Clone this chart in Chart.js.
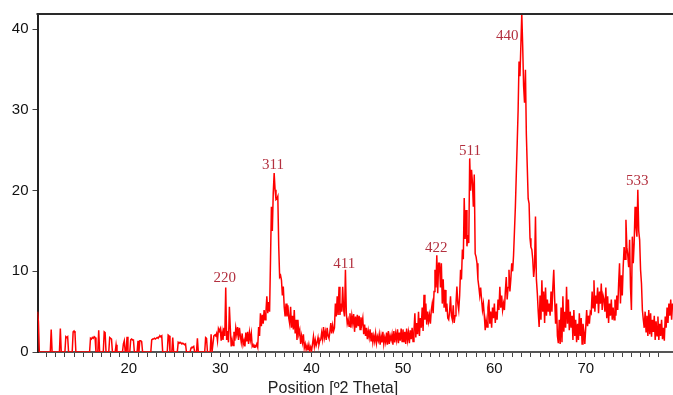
<!DOCTYPE html>
<html><head><meta charset="utf-8">
<script src="https://cdn.jsdelivr.net/npm/chart.js@4/dist/chart.umd.min.js"></script>
<style>html,body{margin:0;padding:0;background:#fff;overflow:hidden}canvas{display:block}</style>
</head><body>
<canvas id="c" width="673" height="395"></canvas>
<script>
// Sampling grid of the diffractogram (degrees 2-theta)
const thetaStart = 10.0;
const thetaStep = 0.1;
// Intensity, one row per degree (10.0 ... 79.5)
const intensity = [
  5.0, 3.8, 0, 0, 0, 0, 0, 0, 0, 0,
  0, 0, 0, 0, 0, 2.8, 0, 0, 0, 0,
  0, 0, 0, 0, 0, 2.9, 0, 0, 0, 0,
  0, 1.9, 1.8, 1.9, 0, 0, 0, 0, 0, 2.5,
  2.6, 2.4, 0, 0, 0, 0, 0, 0, 0, 0,
  0, 0, 0, 0, 0, 0, 0, 0, 1.7, 1.6,
  1.8, 1.7, 1.9, 1.8, 0, 0, 0, 2.7, 0, 0,
  0, 0, 0, 2.5, 2.4, 0, 0, 0, 0, 1.8,
  1.7, 1.6, 0, 0, 0, 0, 0.9, 0, 0, 0,
  0, 0, 0, 0, 1.0, 1.4, 0, 0, 1.9, 0,
  0, 0, 1.5, 1.6, 1.5, 1.5, 0, 0, 0, 0,
  1.4, 0, 1.4, 1.4, 1.3, 0, 0, 0, 0, 0,
  0, 0, 0, 0, 0, 1.5, 1.6, 1.6, 1.7, 1.6,
  1.7, 1.8, 1.7, 1.9, 2.0, 1.9, 2.0, 0, 0, 0,
  0, 0, 0, 2.1, 2.0, 0, 0, 0, 1.8, 0,
  0, 0, 0, 0, 1.2, 1.1, 1.2, 1.1, 1.0, 1.1,
  1.0, 0.9, 1.0, 0, 0, 0, 0, 0, 0.5, 0.6,
  0.6, 0.7, 0, 0, 0, 1.7, 0, 0, 0, 0,
  0, 0, 0, 0, 1.8, 1.7, 0, 0, 0, 0,
  2.2, 0, 0, 2.0, 2.1, 2.0, 2.3, 1.4, 2.9, 2.6,
  2.9, 1.4, 2.5, 1.5, 3.0, 2.0, 8.0, 1.5, 2.6, 1.2,
  5.6, 3.0, 0.7, 1.5, 0.8, 2.5, 1.4, 3.0, 2.2, 3.1,
  1.5, 3.0, 2.0, 1.2, 2.3, 0.9, 1.4, 0.7, 2.4, 1.3,
  2.5, 1.0, 2.4, 1.5, 2.3, 0.7, 0.9, 0.6, 0.8, 0.7,
  1.0, 0.6, 3.1, 2.0, 4.8, 3.2, 4.6, 3.5, 5.2, 4.0,
  5.0, 6.9, 4.8, 6.2, 5.0, 11.4, 18.0, 15.0, 19.7, 22.2,
  20.1, 18.9, 19.0, 19.3, 13.1, 9.3, 9.5, 8.9, 7.0, 8.1,
  5.6, 4.4, 6.0, 4.4, 5.8, 4.2, 3.5, 5.6, 3.0, 4.5,
  2.8, 5.2, 2.3, 4.0, 1.5, 4.0, 2.2, 2.7, 1.0, 2.0,
  1.2, 2.2, 0.5, 1.0, 0.3, 0.8, 0.2, 0.9, 0.1, 0.6,
  0.2, 1.0, 1.9, 0.7, 1.5, 0.8, 1.2, 1.8, 0.9, 1.4,
  1.5, 2.4, 1.6, 3.1, 1.8, 2.5, 1.5, 3.0, 2.0, 1.7,
  2.5, 3.6, 2.3, 3.3, 2.6, 3.0, 6.0, 4.4, 6.9, 4.6,
  8.1, 4.6, 6.0, 5.0, 8.1, 5.2, 4.4, 10.2, 4.8, 3.5,
  4.0, 3.2, 4.8, 3.0, 4.5, 3.6, 4.7, 2.5, 4.4, 3.0,
  4.6, 3.2, 4.5, 2.8, 4.3, 3.5, 4.2, 2.2, 3.4, 2.0,
  3.0, 1.6, 2.6, 1.8, 2.8, 1.4, 2.4, 1.2, 2.0, 1.3,
  2.3, 1.1, 1.9, 1.4, 2.2, 0.9, 2.0, 1.2, 2.5, 1.0,
  1.8, 1.2, 2.4, 0.9, 2.6, 1.0, 2.0, 1.5, 2.2, 0.9,
  2.6, 1.2, 2.3, 1.5, 2.8, 1.1, 2.4, 1.4, 2.9, 1.3,
  2.8, 1.2, 2.5, 1.0, 2.9, 1.5, 2.4, 1.1, 2.7, 1.6,
  3.0, 1.3, 2.6, 4.8, 1.8, 3.6, 2.2, 5.0, 2.0, 4.2,
  3.0, 5.5, 2.6, 7.1, 4.0, 6.0, 3.4, 5.0, 3.8, 4.6,
  3.5, 5.2, 6.0, 4.8, 7.5, 10.2, 8.0, 12.0, 7.3, 11.0,
  11.0, 8.0, 11.0, 6.0, 9.0, 5.5, 7.7, 5.0, 6.0, 4.2,
  4.0, 5.0, 6.9, 4.5, 4.0, 5.8, 3.6, 4.5, 6.0, 8.1,
  6.0, 5.2, 7.0, 10.2, 9.0, 12.7, 11.5, 19.1, 14.0, 17.6,
  13.1, 14.5, 13.5, 24.0, 20.0, 22.6, 21.0, 18.0, 22.0, 12.2,
  11.8, 11.0, 9.0, 8.1, 7.0, 8.0, 6.5, 5.2, 6.0, 4.5,
  2.7, 4.0, 3.1, 5.5, 6.5, 3.5, 5.0, 3.0, 5.5, 4.2,
  6.0, 3.6, 5.0, 4.0, 6.5, 5.2, 8.1, 5.5, 7.0, 5.2,
  6.0, 5.2, 7.5, 9.3, 6.5, 8.0, 10.2, 7.5, 9.0, 11.0,
  10.0, 12.0, 15.0, 18.0, 22.0, 25.9, 30.0, 36.0, 34.2, 38.0,
  42.0, 37.9, 33.0, 30.9, 35.0, 27.0, 23.0, 19.0, 18.4, 14.1,
  13.0, 12.7, 11.5, 9.3, 10.5, 16.8, 9.0, 7.3, 5.0, 3.1,
  7.0, 4.0, 8.9, 5.0, 7.5, 3.6, 8.0, 4.5, 6.5, 5.0,
  6.0, 4.5, 7.5, 5.0, 8.0, 10.2, 6.5, 3.5, 6.0, 2.0,
  1.1, 4.0, 1.0, 5.5, 1.2, 6.9, 2.5, 5.0, 3.0, 8.1,
  3.5, 6.5, 2.7, 5.0, 3.0, 4.5, 1.5, 5.2, 2.0, 4.0,
  1.2, 3.5, 1.5, 4.8, 2.0, 4.2, 1.0, 3.5, 2.5, 1.0,
  3.0, 5.2, 3.2, 4.5, 3.5, 5.0, 4.8, 7.5, 5.5, 8.9,
  5.0, 7.0, 6.0, 8.0, 4.8, 7.5, 6.0, 8.5, 5.2, 7.0,
  6.5, 5.0, 8.0, 4.2, 6.9, 3.6, 6.0, 4.5, 6.5, 4.0,
  5.5, 4.0, 6.5, 4.5, 7.0, 5.2, 8.5, 11.0, 6.0, 9.5,
  7.0, 10.6, 13.0, 11.5, 16.4, 13.0, 12.0, 10.5, 13.9, 8.0,
  5.2, 14.3, 11.0, 13.5, 18.0, 15.5, 14.3, 20.1, 15.0, 13.9,
  10.2, 8.5, 5.2, 4.0, 3.0, 5.0, 2.5, 4.5, 2.0, 5.2,
  2.2, 4.8, 1.9, 4.0, 2.5, 4.5, 1.5, 3.8, 2.0, 4.4,
  1.5, 3.5, 2.0, 4.0, 1.6, 3.0, 1.4, 4.4, 3.0, 5.5,
  3.6, 6.0, 4.5, 6.5, 4.0, 6.0
];
const xTickLabels = [20, 30, 40, 50, 60, 70];
const yTickLabels = [0, 10, 20, 30, 40];
const peakLabels = ['220', '311', '411', '422', '511', '440', '533'];
const peakLabelTheta = [30.49, 35.77, 43.57, 53.64, 57.34, 61.41, 75.63];
const peakLabelIntensity = [8.65, 22.65, 10.38, 12.43, 24.42, 38.68, 20.70];
const xAxisTitle = 'Position [º2 Theta]';

const points = intensity.map((v, i) => ({ x: Math.round((thetaStart + i * thetaStep) * 10) / 10, y: v }));

const frameAndLabels = {
  id: 'frameAndLabels',
  afterDraw(chart) {
    const { ctx, chartArea: a, scales: { x, y } } = chart;
    ctx.save();
    ctx.strokeStyle = '#2a2a2a';
    ctx.lineWidth = 2;
    ctx.beginPath();
    ctx.moveTo(a.left - 1, a.top);
    ctx.lineTo(chart.width, a.top);
    ctx.stroke();
    ctx.font = '15px "Liberation Serif", "Times New Roman", serif';
    ctx.fillStyle = '#b3303f';
    ctx.textAlign = 'center';
    ctx.textBaseline = 'alphabetic';
    peakLabels.forEach((t, i) => {
      ctx.fillText(t, x.getPixelForValue(peakLabelTheta[i]), y.getPixelForValue(peakLabelIntensity[i]));
    });
    ctx.font = '16px "Liberation Sans", Arial, sans-serif';
    ctx.fillStyle = '#222';
    ctx.fillText(xAxisTitle, a.left + 295.5, 393);
    ctx.restore();
  }
};

new Chart(document.getElementById('c'), {
  type: 'line',
  data: {
    datasets: [{
      data: points,
      borderColor: '#ff0000',
      borderWidth: 1.5,
      pointRadius: 0,
      tension: 0,
      fill: false
    }]
  },
  options: {
    responsive: false,
    animation: false,
    devicePixelRatio: 1,
    layout: { padding: { top: 14, right: 0, left: 0, bottom: 0 } },
    plugins: { legend: { display: false }, tooltip: { enabled: false } },
    scales: {
      x: {
        type: 'linear', min: 10, max: 79.55, z: 1,
        afterBuildTicks: ax => {
          ax.ticks = ax.ticks.filter(t => Math.abs(t.value - Math.round(t.value)) < 1e-6 && t.value > 10.5 && t.value < 79.5);
        },
        afterFit: ax => { ax.height = 43; },
        ticks: {
          stepSize: 1, autoSkip: false, maxRotation: 0, minRotation: 0, padding: 3,
          font: { family: '"Liberation Sans", Arial, sans-serif', size: 15 }, color: '#111',
          callback: v => xTickLabels.includes(Math.round(v)) ? String(Math.round(v)) : ''
        },
        grid: { display: true, drawOnChartArea: false, drawTicks: true, tickLength: 5, tickColor: '#444', tickWidth: 1 },
        border: { display: true, color: '#555', width: 2 }
      },
      y: {
        min: 0, max: 41.9, z: 1,
        afterBuildTicks: ax => { ax.ticks = yTickLabels.map(v => ({ value: v })); },
        afterFit: ax => { ax.width = 37.5; },
        ticks: {
          padding: 4, font: { family: '"Liberation Sans", Arial, sans-serif', size: 15 }, color: '#111',
          callback: v => String(v)
        },
        grid: { display: true, drawOnChartArea: false, drawTicks: true, tickLength: 5, tickColor: '#444', tickWidth: 1 },
        border: { display: true, color: '#222', width: 2 }
      }
    }
  },
  plugins: [frameAndLabels]
});
</script>
</body></html>
